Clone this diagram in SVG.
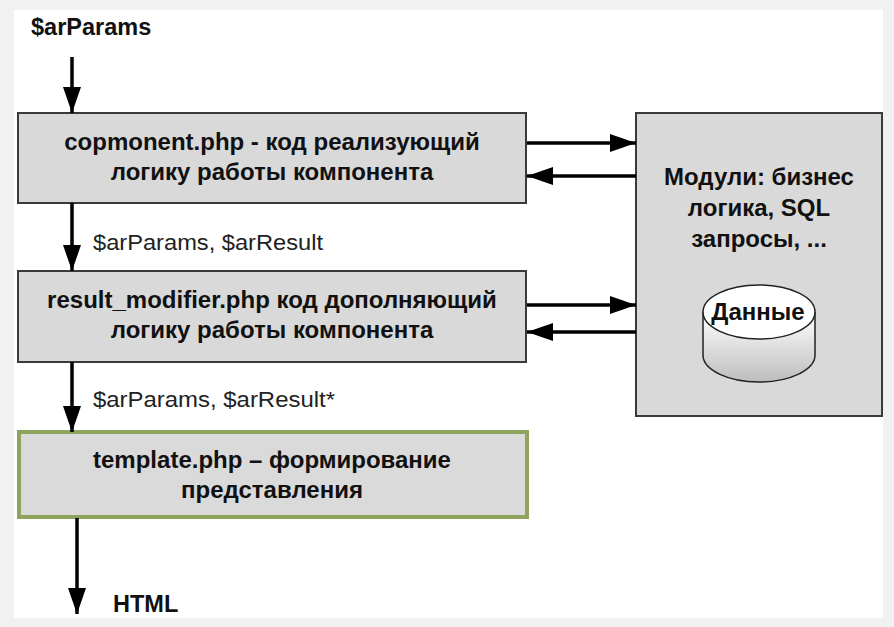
<svg xmlns="http://www.w3.org/2000/svg" width="894" height="627" viewBox="0 0 894 627">
<defs>
<style>
.box{fill:#d9d9d9;stroke:#3a3a3a;stroke-width:2}
.tb{font-family:"Liberation Sans",Arial,sans-serif;font-weight:bold;font-size:24px;fill:#111;text-anchor:middle}
.lbl{font-family:"Liberation Sans",Arial,sans-serif;font-size:22px;fill:#222}
.ttl{font-family:"Liberation Sans",Arial,sans-serif;font-weight:bold;font-size:23.5px;fill:#111}
.ln{stroke:#000;stroke-width:3.5;fill:none}
</style>
<marker id="ah" viewBox="0 0 26 18" refX="26" refY="9" markerWidth="26" markerHeight="18" markerUnits="userSpaceOnUse" orient="auto">
<path d="M0,0 L26,9 L0,18 z" fill="#000"/>
</marker>
<linearGradient id="cyl" x1="0" y1="0" x2="0" y2="1">
<stop offset="0" stop-color="#ffffff"/>
<stop offset="1" stop-color="#bdbdbd"/>
</linearGradient>
</defs>
<rect x="0" y="0" width="894" height="627" fill="#f1f1f1"/>
<rect x="14" y="10" width="869" height="608" fill="#ffffff"/>

<text class="ttl" x="31" y="35">$arParams</text>

<g id="component">
<rect class="box" x="18" y="113" width="508" height="90"/>
<text class="tb" x="272" y="150">copmonent.php - код реализующий</text>
<text class="tb" x="272" y="180">логику работы компонента</text>
</g>

<g id="result_modifier">
<rect class="box" x="18" y="271" width="508" height="91"/>
<text class="tb" x="272" y="308">result_modifier.php код дополняющий</text>
<text class="tb" x="272" y="338">логику работы компонента</text>
</g>

<g id="template">
<rect x="19" y="432" width="508" height="85" fill="#dadada" stroke="#8ea35c" stroke-width="4"/>
<text class="tb" x="272" y="468">template.php – формирование</text>
<text class="tb" x="272" y="498">представления</text>
</g>

<g id="modules">
<rect class="box" x="636" y="113" width="246" height="303"/>
<text class="tb" x="759" y="185">Модули: бизнес</text>
<text class="tb" x="759" y="216">логика, SQL</text>
<text class="tb" x="759" y="247">запросы, ...</text>
</g>

<g id="data">
<path d="M703,312 L703,355 A56,27 0 0 0 815,355 L815,312" fill="url(#cyl)" stroke="#222" stroke-width="1.5"/>
<ellipse cx="759" cy="312" rx="56" ry="27" fill="#ffffff" stroke="#222" stroke-width="1.5"/>
<text class="tb" x="758" y="320" font-size="25">Данные</text>
</g>

<g id="connectors">
<line class="ln" x1="72" y1="57" x2="72" y2="113" marker-end="url(#ah)"/>
<line class="ln" x1="72" y1="203" x2="72" y2="271" marker-end="url(#ah)"/>
<line class="ln" x1="72" y1="362" x2="72" y2="432" marker-end="url(#ah)"/>
<line class="ln" x1="77" y1="518" x2="77" y2="614" marker-end="url(#ah)"/>
<line class="ln" x1="527" y1="143" x2="636" y2="143" marker-end="url(#ah)"/>
<line class="ln" x1="636" y1="176" x2="527" y2="176" marker-end="url(#ah)"/>
<line class="ln" x1="527" y1="305" x2="636" y2="305" marker-end="url(#ah)"/>
<line class="ln" x1="636" y1="332" x2="527" y2="332" marker-end="url(#ah)"/>
<text class="lbl" x="93" y="250" textLength="230" lengthAdjust="spacingAndGlyphs">$arParams, $arResult</text>
<text class="lbl" x="93" y="407" textLength="242" lengthAdjust="spacingAndGlyphs">$arParams, $arResult*</text>
</g>

<text class="ttl" x="113" y="612" font-size="22">HTML</text>
</svg>
